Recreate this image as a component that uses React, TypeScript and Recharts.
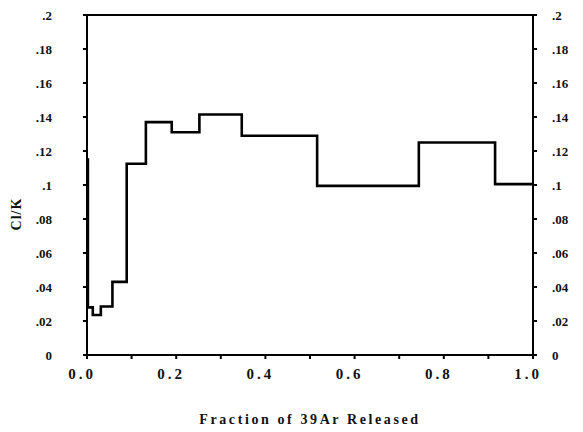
import { LineChart, Line, XAxis, YAxis, ReferenceLine } from 'recharts';

// step edges (cumulative fraction of 39Ar) and the Cl/K value of each step
const fraction = [0, 0.002, 0.013, 0.031, 0.057, 0.089, 0.132, 0.19, 0.252, 0.347, 0.516, 0.744, 0.915, 1.0];
const clk = [0.115, 0.028, 0.0235, 0.0285, 0.043, 0.1125, 0.137, 0.131, 0.1415, 0.129, 0.0995, 0.125, 0.1005, 0.1005];

const xTicks = [0, 0.1, 0.2, 0.3, 0.4, 0.5, 0.6, 0.7, 0.8, 0.9, 1.0];
const xTickLabels = ['0.0', '', '0.2', '', '0.4', '', '0.6', '', '0.8', '', '1.0'];
const yTicks = [0, 0.02, 0.04, 0.06, 0.08, 0.1, 0.12, 0.14, 0.16, 0.18, 0.2];
const yTickLabels = ['0', '.02', '.04', '.06', '.08', '.1', '.12', '.14', '.16', '.18', '.2'];

const font = '"Liberation Serif", "DejaVu Serif", serif';

const pick = (ticks: number[], labels: string[]) => (v: number) =>
  labels[ticks.findIndex((t) => Math.abs(t - v) < 1e-6)] ?? '';

export default function App() {
  const data = fraction.map((f, i) => ({ f, v: clk[i] }));
  const tickStyle = { fill: '#111', fontSize: 13, fontFamily: font, fontWeight: 'bold' };

  return (
    <div style={{ position: 'absolute', left: 0, top: 0, width: 583, height: 432, background: '#fff' }}>
      <LineChart width={583} height={432} data={data} margin={{ top: 15, right: 0, left: 0, bottom: 0 }}>
        <XAxis
          dataKey="f"
          type="number"
          domain={[0, 1]}
          ticks={xTicks}
          tickFormatter={pick(xTicks, xTickLabels)}
          interval={0}
          height={77}
          stroke="#000"
          strokeWidth={2}
          tickSize={4}
          tickMargin={9}
          tick={{ ...tickStyle, fontSize: 15, letterSpacing: 3, dx: -5 }}
          label={{
            value: 'Fraction of 39Ar Released',
            position: 'insideBottom',
            offset: 8,
            style: { fill: '#111', fontSize: 14, fontFamily: font, fontWeight: 'bold', letterSpacing: 2.6 },
          }}
        />
        <YAxis
          yAxisId="left"
          type="number"
          domain={[0, 0.2]}
          ticks={yTicks}
          tickFormatter={pick(yTicks, yTickLabels)}
          interval={0}
          width={87}
          stroke="#000"
          strokeWidth={2}
          tickSize={4}
          tickMargin={31}
          tick={tickStyle}
          label={{
            content: () => (
              <text
                x={21}
                y={214}
                transform="rotate(-90 21 214)"
                textAnchor="middle"
                fill="#111"
                fontSize={14}
                fontFamily={font}
                fontWeight="bold"
                letterSpacing={1}
              >
                Cl/K
              </text>
            ),
          }}
        />
        <YAxis
          yAxisId="right"
          orientation="right"
          type="number"
          domain={[0, 0.2]}
          ticks={yTicks}
          tickFormatter={pick(yTicks, yTickLabels)}
          interval={0}
          width={50}
          stroke="#000"
          strokeWidth={2}
          tickSize={4}
          tickMargin={15}
          tick={{ ...tickStyle, textAnchor: 'start' }}
        />
        <ReferenceLine yAxisId="left" y={0.2} stroke="#000" strokeWidth={2} />
        <Line
          yAxisId="right"
          type="stepAfter"
          dataKey="v"
          stroke="none"
          dot={false}
          legendType="none"
          isAnimationActive={false}
        />
        <Line
          yAxisId="left"
          type="stepAfter"
          dataKey="v"
          stroke="#000"
          strokeWidth={2.6}
          dot={false}
          isAnimationActive={false}
        />
      </LineChart>
    </div>
  );
}
